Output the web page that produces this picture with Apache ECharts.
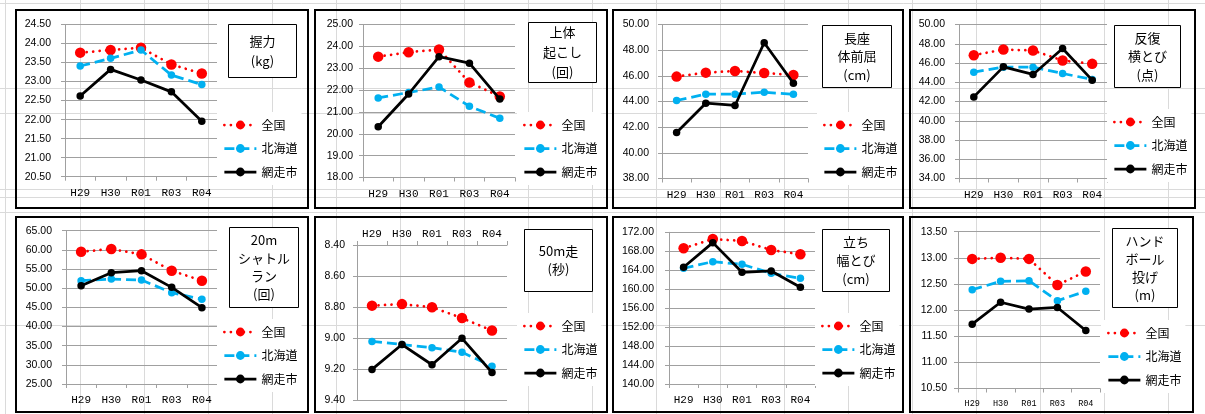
<!DOCTYPE html>
<html><head><meta charset="utf-8">
<script src="https://cdn.jsdelivr.net/npm/echarts@6/dist/echarts.min.js"></script>
<style>html,body{margin:0;padding:0;background:#fff;}#c{width:1205px;height:414px;}</style>
</head><body><div id="c"></div>
<script>
// ---- data ----
const categories = ['H29', 'H30', 'R01', 'R03', 'R04'];
const seriesNames = ['全国', '北海道', '網走市'];

const grip_zenkoku = [23.76, 23.83, 23.89, 23.45, 23.21];
const grip_hokkaido = [23.41, 23.61, 23.83, 23.17, 22.92];
const grip_abashiri = [22.62, 23.32, 23.04, 22.73, 21.96];

const situp_zenkoku = [23.53, 23.73, 23.86, 22.35, 21.71];
const situp_hokkaido = [21.64, 21.89, 22.14, 21.26, 20.71];
const situp_abashiri = [20.32, 21.82, 23.53, 23.23, 21.59];

const reach_zenkoku = [45.94, 46.25, 46.38, 46.22, 46.07];
const reach_hokkaido = [44.08, 44.57, 44.57, 44.72, 44.57];
const reach_abashiri = [41.59, 43.87, 43.69, 48.58, 45.42];

const step_zenkoku = [46.81, 47.40, 47.30, 46.26, 45.91];
const step_hokkaido = [45.05, 45.57, 45.57, 44.91, 44.29];
const step_abashiri = [42.48, 45.60, 44.81, 47.51, 44.22];

const shuttle_zenkoku = [59.52, 60.22, 58.83, 54.57, 51.96];
const shuttle_hokkaido = [51.96, 52.39, 52.13, 48.83, 47.09];
const shuttle_abashiri = [50.65, 54.04, 54.57, 50.22, 44.91];

const dash_zenkoku = [8.79, 8.78, 8.80, 8.87, 8.95];
const dash_hokkaido = [9.02, 9.04, 9.06, 9.09, 9.18];
const dash_abashiri = [9.20, 9.04, 9.17, 9.00, 9.22];

const jump_zenkoku = [168.63, 170.59, 170.17, 168.27, 167.36];
const jump_hokkaido = [164.41, 165.81, 165.25, 163.35, 162.30];
const jump_abashiri = [164.62, 169.82, 163.56, 163.85, 160.40];

const throw_zenkoku = [12.98, 13.00, 12.98, 12.48, 12.74];
const throw_hokkaido = [12.39, 12.55, 12.56, 12.18, 12.36];
const throw_abashiri = [11.73, 12.15, 12.02, 12.05, 11.61];

const titles = ['握力\n(kg)', '上体\n起こし\n(回)', '長座\n体前屈\n(cm)', '反復\n横とび\n(点)',
  '20m\nシャトル\nラン\n(回)', '50m走\n(秒)', '立ち\n幅とび\n(cm)', 'ハンド\nボール\n投げ\n(m)'];
const yRanges = [[20.5, 24.5, 0.5], [18, 25, 1], [38, 50, 2], [34, 50, 2],
  [25, 65, 5], [8.4, 9.4, 0.2], [140, 172, 4], [10.5, 13.5, 0.5]];
const panelData = [
  [grip_zenkoku, grip_hokkaido, grip_abashiri],
  [situp_zenkoku, situp_hokkaido, situp_abashiri],
  [reach_zenkoku, reach_hokkaido, reach_abashiri],
  [step_zenkoku, step_hokkaido, step_abashiri],
  [shuttle_zenkoku, shuttle_hokkaido, shuttle_abashiri],
  [dash_zenkoku, dash_hokkaido, dash_abashiri],
  [jump_zenkoku, jump_hokkaido, jump_abashiri],
  [throw_zenkoku, throw_hokkaido, throw_abashiri]
];

// ---- layout ----
const layout = [
  {box: [16, 10, 292, 198], grid: [65, 24.5, 152, 152.2], lm: 14, tb: [228, 24, 68, 53], lh: 20, lg: [223, 125]},
  {box: [315, 10, 292, 198], grid: [363, 24.5, 152, 153], lm: 10, tb: [528, 22, 68, 60], lh: 20, lg: [523, 125]},
  {box: [613, 10, 290, 198], grid: [662, 24.5, 146, 154], lm: 13, tb: [822, 25, 69, 62], lh: 18.5, lg: [823, 125]},
  {box: [910, 10, 285, 198], grid: [959, 24.5, 148, 154], lm: 14, tb: [1114, 25, 66, 62], lh: 18.5, lg: [1113, 122]},
  {box: [16, 217, 292, 195], grid: [66, 230.7, 151, 153.3], lm: 14, tb: [229, 227, 69, 80], lh: 18, lg: [223, 332]},
  {box: [315, 217, 292, 195], grid: [357, 245, 150, 155.5], lm: 12, tb: [524, 229, 68, 62], lh: 18, lg: [523, 326], top: true},
  {box: [613, 217, 290, 195], grid: [669, 232.3, 146, 151.7], lm: 15, tb: [822, 229, 67, 62], lh: 18.5, lg: [821, 326]},
  {box: [910, 217, 283, 195], grid: [958, 231.7, 142, 156.8], lm: 11, tb: [1112, 228, 65, 79], lh: 18, lg: [1107, 333], small: true}
];

const AX = '#a0a0a0';
const styles = [
  {color: '#ff0000', type: [0.01, 6.5], size: 10.5},
  {color: '#00b0f0', type: [10, 5], size: 7.5},
  {color: '#000000', type: 'solid', size: 7.5}
];

const grids = [], xAxes = [], yAxes = [], series = [], legends = [], graphics = [];

// spreadsheet cell lines
const vx = [5];
for (let x = 80; x < 1205; x += 64) vx.push(x);
vx.forEach(x => graphics.push({type: 'line', z: -10, silent: true,
  shape: {x1: x + 0.5, y1: 0, x2: x + 0.5, y2: 414}, style: {stroke: '#dadada', lineWidth: 1}}));
[3, 88, 113, 189, 197, 212, 325].forEach(y => graphics.push({type: 'line', z: -10, silent: true,
  shape: {x1: 0, y1: y + 0.5, x2: 1205, y2: y + 0.5}, style: {stroke: '#dadada', lineWidth: 1}}));

layout.forEach((p, i) => {
  const [gl, gt, gw, gh] = p.grid;
  grids.push({left: gl, top: gt, width: gw, height: gh, containLabel: false});
  xAxes.push({
    type: 'category', gridIndex: i, data: categories, boundaryGap: true,
    position: p.top ? 'top' : 'bottom',
    axisLine: {show: true, onZero: false, lineStyle: {color: AX, width: 1}},
    axisTick: {show: true, length: 4, lineStyle: {color: AX}},
    axisLabel: {margin: p.top ? 5 : 11, fontSize: p.small ? 8.5 : 11, fontFamily: 'Liberation Mono', color: '#000'},
    splitLine: {show: false}
  });
  const [mn, mx, iv] = yRanges[i];
  yAxes.push({
    type: 'value', gridIndex: i, min: mn, max: mx, interval: iv, inverse: !!p.top,
    axisLine: {show: true, lineStyle: {color: AX, width: 1}},
    axisTick: {show: true, length: 4, lineStyle: {color: AX}},
    splitLine: {show: true, lineStyle: {color: AX, width: 1}},
    axisLabel: {margin: p.lm, fontSize: 10.5, fontFamily: 'Liberation Sans', color: '#000',
      formatter: v => v.toFixed(2)}
  });
  panelData[i].forEach((d, k) => {
    const s = styles[k];
    series.push({
      type: 'line', name: seriesNames[k], xAxisIndex: i, yAxisIndex: i, data: d,
      symbol: 'circle', symbolSize: s.size, showSymbol: true,
      lineStyle: {color: s.color, width: 2.75, type: s.type, cap: k === 0 ? 'round' : 'butt'},
      itemStyle: {color: s.color}, z: 2 + k
    });
  });
  const padT = 6, padL = 6;
  legends.push({
    orient: 'vertical', left: p.lg[0] - padL, top: p.lg[1] - 7 - padT,
    padding: [padT, 4, 6, padL], backgroundColor: '#fff',
    itemWidth: 32, itemHeight: 11, itemGap: 9.5, selectedMode: false,
    data: seriesNames,
    lineStyle: {width: 2.75},
    textStyle: {fontSize: 12, fontFamily: 'Noto Sans CJK JP', color: '#000', lineHeight: 14}
  });
  // panel border
  graphics.push({type: 'rect', z: 10, silent: true,
    shape: {x: p.box[0], y: p.box[1], width: p.box[2], height: p.box[3]},
    style: {fill: 'none', stroke: '#000', lineWidth: 2}});
  // title box
  graphics.push({type: 'rect', z: 10, silent: true,
    shape: {x: p.tb[0] + 0.5, y: p.tb[1] + 0.5, width: p.tb[2], height: p.tb[3]},
    style: {fill: '#fff', stroke: '#000', lineWidth: 1}});
  graphics.push({type: 'text', z: 11, silent: true,
    style: {text: titles[i], x: p.tb[0] + p.tb[2] / 2 + 0.5, y: p.tb[1] + p.tb[3] / 2 + 0.5,
      align: 'center', verticalAlign: 'middle', lineHeight: p.lh,
      font: '13px "Noto Sans CJK JP"', fill: '#000'}});
});

const chart = echarts.init(document.getElementById('c'), null, {renderer: 'canvas'});
chart.setOption({
  animation: false,
  backgroundColor: '#fff',
  grid: grids, xAxis: xAxes, yAxis: yAxes, series: series, legend: legends,
  graphic: {elements: graphics}
});
</script></body></html>
